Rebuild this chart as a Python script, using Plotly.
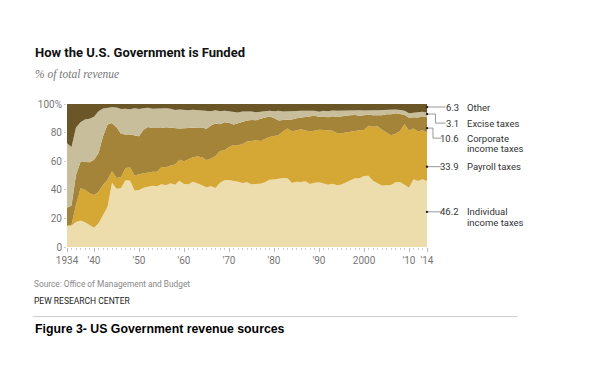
import plotly.graph_objects as go

years = list(range(1934, 2015))

individual = [14.5, 15.0, 17.5, 18.5, 17.3, 15.6, 13.4, 16.5, 22.3, 28.0,
              45.0, 40.7, 41.0, 46.6, 46.5, 39.5, 39.9, 41.5, 42.2, 42.8,
              42.4, 43.9, 43.2, 44.5, 43.6, 46.3, 44.0, 43.8, 45.7, 44.7,
              43.2, 41.8, 42.4, 41.3, 44.9, 46.7, 46.9, 46.1, 45.7, 44.7,
              45.2, 43.9, 44.2, 44.3, 45.3, 47.0, 47.2, 47.7, 48.2, 48.1,
              44.8, 45.6, 45.4, 46.0, 44.1, 45.0, 45.2, 44.4, 43.6, 44.2,
              43.1, 43.7, 45.2, 46.7, 48.1, 48.1, 49.6, 49.9, 46.3, 44.5,
              43.0, 43.1, 43.4, 45.3, 45.4, 43.5, 41.5, 47.4, 46.2, 47.4,
              46.2]
payroll = [0.5, 0.5, 12.0, 22.5, 22.7, 22.0, 23.0, 22.2, 21.1, 19.0,
           7.9, 7.6, 8.0, 8.6, 9.1, 10.5, 11.0, 10.0, 9.7, 9.9,
           10.3, 12.0, 12.5, 12.5, 14.1, 14.8, 15.9, 17.4, 17.1, 18.6,
           19.5, 19.1, 19.5, 22.3, 22.2, 20.9, 23.0, 25.3, 25.4, 27.3,
           28.5, 30.3, 30.5, 29.9, 30.3, 30.0, 30.5, 30.5, 32.6, 34.8,
           35.9, 36.1, 36.9, 35.5, 36.8, 36.3, 36.8, 37.5, 37.9, 37.1,
           36.6, 35.8, 34.8, 33.9, 33.2, 33.5, 32.2, 34.9, 37.8, 40.0,
           39.0, 36.9, 34.8, 33.9, 35.7, 42.3, 40.0, 35.5, 34.5, 34.2,
           33.9]
corporate = [12.5, 13.5, 21.0, 18.5, 19.4, 21.6, 24.6, 27.0, 34.1, 38.7,
             33.9, 35.4, 30.2, 23.4, 23.1, 28.3, 26.5, 30.5, 32.1, 30.5,
             30.3, 27.3, 28.0, 26.5, 25.2, 21.8, 23.2, 22.2, 20.6, 20.3,
             20.9, 21.8, 23.0, 22.8, 18.7, 19.6, 17.0, 14.3, 15.5, 15.7,
             14.7, 14.6, 13.9, 15.4, 15.0, 14.2, 12.5, 10.2, 8.0, 6.2,
             8.5, 8.4, 8.2, 9.8, 10.4, 10.4, 9.1, 9.3, 9.2, 10.2,
             11.2, 11.6, 11.8, 11.5, 11.0, 10.1, 10.2, 7.6, 8.0, 7.4,
             10.1, 12.9, 14.7, 14.4, 12.1, 6.6, 8.9, 7.9, 9.9, 9.9,
             10.6]
excise = [45.0, 41.0, 33.0, 27.8, 29.8, 30.5, 30.0, 29.3, 19.3, 11.8,
          11.0, 13.9, 17.3, 18.1, 17.6, 18.7, 19.1, 15.0, 13.4, 13.4,
          13.8, 14.0, 13.3, 13.2, 12.9, 13.3, 12.6, 12.2, 12.6, 12.2,
          12.2, 12.5, 10.0, 9.2, 9.2, 8.1, 8.1, 9.0, 7.5, 7.0,
          6.4, 5.9, 5.7, 4.9, 4.6, 4.0, 4.7, 6.8, 5.9, 5.9,
          5.7, 5.0, 4.7, 3.8, 3.8, 3.5, 3.4, 4.0, 4.2, 4.0,
          4.3, 4.2, 3.8, 3.6, 3.4, 3.9, 3.4, 3.3, 3.6, 3.8,
          3.7, 3.4, 3.1, 2.5, 2.6, 2.9, 3.1, 3.1, 3.2, 3.0,
          3.1]
other = [round(100 - a - b - c - d, 1) for a, b, c, d in
         zip(individual, payroll, corporate, excise)]

series_names = ["Individual income taxes", "Payroll taxes",
                "Corporate income taxes", "Excise taxes", "Other"]
series_values = [individual, payroll, corporate, excise, other]
colors = ["#EEDDAC", "#D5A735", "#A38438", "#C9BE9C", "#6B5628"]

x_tickvals = [1934, 1940, 1950, 1960, 1970, 1980, 1990, 2000, 2010, 2014]
x_ticktext = ["1934", "'40", "'50", "'60", "'70", "'80", "'90", "2000", "'10", "'14"]
y_tickvals = [0, 20, 40, 60, 80, 100]
y_ticktext = ["0", "20", "40", "60", "80", "100%"]

label_values = ["46.2", "33.9", "10.6", "3.1", "6.3"]
label_lines = [["Individual", "income taxes"], ["Payroll taxes"],
               ["Corporate", "income taxes"], ["Excise taxes"], ["Other"]]

# page has an 8px body margin: lay out in reference pixels, shifted by OFF
OFF = 8
W, H = 596 - 2 * OFF, 383 - 2 * OFF
PLOT_L, PLOT_R, PLOT_T, PLOT_B = 67.3, 427.5, 104.3, 246.7
ML = PLOT_L - OFF
MT = PLOT_T - OFF
MR = W - (PLOT_R - OFF)
MB = H - (PLOT_B - OFF)
PW = PLOT_R - PLOT_L
PH = PLOT_B - PLOT_T


def px(x):
    return (x - PLOT_L) / PW


def py(y):
    return (PLOT_B - y) / PH


fig = go.Figure()
for name, vals, col in zip(series_names, series_values, colors):
    fig.add_trace(go.Scatter(
        x=years, y=vals, name=name, stackgroup="one", mode="lines",
        line=dict(width=0, color=col), fillcolor=col, hoverinfo="skip",
    ))

fig.update_layout(
    width=W, height=H,
    margin=dict(l=ML, r=MR, t=MT, b=MB, pad=0, autoexpand=False),
    paper_bgcolor="white", plot_bgcolor="white", showlegend=False,
    font=dict(family="Roboto, Arial, sans-serif", color="#666", size=10),
)
fig.update_xaxes(
    range=[1934, 2014], tickvals=x_tickvals, ticktext=x_ticktext,
    ticks="outside", ticklen=4, tickcolor="#bbbbbb", tickwidth=1,
    minor=dict(dtick=1, tick0=1934, ticks="outside", ticklen=2, tickcolor="#cccccc"),
    showgrid=False, showline=False, zeroline=False,
    tickfont=dict(size=10, color="#777"), fixedrange=True,
)
fig.update_yaxes(
    range=[0, 100], tickvals=y_tickvals, ticktext=y_ticktext,
    ticks="outside", ticklen=2, tickcolor="#cccccc",
    showgrid=False, showline=False, zeroline=False,
    tickfont=dict(size=10, color="#777"), fixedrange=True,
)

annotations = []
shapes = []

annotations.append(dict(text="<b>How the U.S. Government is Funded</b>",
                        xref="paper", yref="paper", x=px(33), y=py(53),
                        xanchor="left", yanchor="middle", showarrow=False,
                        font=dict(family="Roboto, Arial, sans-serif", size=13, color="#111")))
annotations.append(dict(text="<i>% of total revenue</i>",
                        xref="paper", yref="paper", x=px(33), y=py(75),
                        xanchor="left", yanchor="middle", showarrow=False,
                        font=dict(family="Liberation Serif, serif", size=11.5, color="#777")))

# leader lines: (dot y, elbow x, label y, end x) in reference pixels
leaders = [(211.7, None, 211.7, 442), (166.7, None, 166.7, 442),
           (128.3, 433.5, 138.3, 442), (114.3, 436, 123.3, 446),
           (107.3, None, 107.3, 446)]
for (dy, ex, ly, endx) in leaders:
    if ex is None:
        path = f"M {px(427.5)},{py(dy)} L {px(endx)},{py(dy)}"
    else:
        path = (f"M {px(427.5)},{py(dy)} L {px(ex)},{py(dy)} "
                f"L {px(ex)},{py(ly)} L {px(endx)},{py(ly)}")
    shapes.append(dict(type="path", xref="paper", yref="paper", path=path,
                       line=dict(color="#999", width=1)))
    shapes.append(dict(type="circle", xref="paper", yref="paper",
                       x0=px(426.3), x1=px(428.7), y0=py(dy - 1.2), y1=py(dy + 1.2),
                       fillcolor="#222", line=dict(width=0)))

label_font = dict(family="Roboto, Arial, sans-serif", size=9.5, color="#333")
for (dy, ex, ly, endx), val, lines in zip(leaders, label_values, label_lines):
    annotations.append(dict(text=val, xref="paper", yref="paper",
                            x=px(461.5), y=py(ly), xanchor="right", yanchor="middle",
                            showarrow=False, font=label_font))
    for i, ln in enumerate(lines):
        annotations.append(dict(text=ln, xref="paper", yref="paper",
                                x=px(465.5), y=py(ly + 10.5 * i), xanchor="left",
                                yanchor="middle", showarrow=False, font=label_font))

annotations.append(dict(text="Source: Office of Management and Budget",
                        xref="paper", yref="paper", x=px(32), y=py(284),
                        xanchor="left", yanchor="middle", showarrow=False,
                        font=dict(family="Roboto, Arial, sans-serif", size=8.3, color="#888")))
annotations.append(dict(text="PEW RESEARCH CENTER",
                        xref="paper", yref="paper", x=px(32), y=py(300),
                        xanchor="left", yanchor="middle", showarrow=False,
                        font=dict(family="Roboto, Arial, sans-serif", size=8.5, color="#222")))
shapes.append(dict(type="line", xref="paper", yref="paper",
                   x0=px(33), x1=px(518), y0=py(316), y1=py(316),
                   line=dict(color="#cccccc", width=1)))
annotations.append(dict(text="<b>Figure 3- US Government revenue sources</b>",
                        xref="paper", yref="paper", x=px(33), y=py(328),
                        xanchor="left", yanchor="middle", showarrow=False,
                        font=dict(family="Liberation Sans, Arial, sans-serif", size=12.3, color="#000")))

fig.update_layout(annotations=annotations, shapes=shapes)
fig.write_html("out.html")
